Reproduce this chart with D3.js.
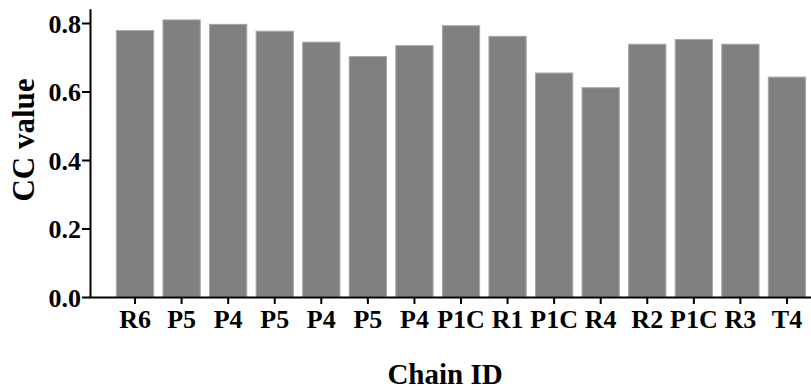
<!DOCTYPE html>
<html>
<head>
<meta charset="utf-8">
<script src="https://cdn.jsdelivr.net/npm/d3@7"></script>
<style>
  body { margin: 0; background: #fff; }
</style>
</head>
<body>
<svg width="811" height="390"></svg>
<script>
(function () {
  'use strict';

  // chain labels (repeat, so index is used as the key)
  const chains = ["R6", "P5", "P4", "P5", "P4", "P5", "P4", "P1C", "R1", "P1C", "R4", "R2", "P1C", "R3", "T4"];
  const ccValues = [0.778, 0.809, 0.796, 0.776, 0.744, 0.702, 0.734, 0.792, 0.761, 0.654, 0.611, 0.738, 0.752, 0.738, 0.642];
  const yTicks = [0.0, 0.2, 0.4, 0.6, 0.8];

  const serif = '"Liberation Serif", "Times New Roman", serif';
  const svg = d3.select("svg");

  const x = d3.scaleBand()
    .domain(d3.range(chains.length))
    .range([90.8, 831.2])
    .paddingInner(0.2)
    .paddingOuter(0.55);

  const y = d3.scaleLinear().domain([0, 0.84]).range([297, 9.3]);

  // bars
  svg.append("g").selectAll("rect")
    .data(ccValues)
    .enter().append("rect")
      .attr("x", (d, i) => x(i))
      .attr("y", d => y(d))
      .attr("width", x.bandwidth())
      .attr("height", d => y(0) - y(d))
      .style("fill", "#808080")
      .style("stroke", "#a6a6a6")
      .style("stroke-width", 1);

  // y axis
  const yAxis = svg.append("g")
    .attr("transform", "translate(90,0)")
    .call(d3.axisLeft(y).tickValues(yTicks).tickFormat(d3.format(".1f")).tickSize(8).tickPadding(1).tickSizeOuter(0));
  yAxis.select(".domain").attr("d", "M0.5," + y.range()[1] + "V" + (y(0) + 0.5));

  // x axis
  const xAxis = svg.append("g")
    .attr("transform", "translate(0,297)")
    .call(d3.axisBottom(x).tickFormat(i => chains[i]).tickSize(7).tickPadding(6).tickSizeOuter(0));
  xAxis.select(".domain").attr("d", "M89,0.5H811");

  [xAxis, yAxis].forEach(ax => {
    ax.attr("font-family", null).attr("font-size", null);
    ax.selectAll("path, line").attr("stroke", "#000").attr("stroke-width", 2);
    ax.selectAll("text")
      .style("font-family", serif)
      .style("font-weight", "bold")
      .style("font-size", "26px")
      .attr("fill", "#000");
  });
  yAxis.selectAll("text").attr("dy", "0.35em");
  xAxis.selectAll("text").attr("dy", "0.71em");

  // axis titles
  svg.append("text")
    .attr("x", 445).attr("y", 384)
    .attr("text-anchor", "middle")
    .style("font-family", serif)
    .style("font-weight", "bold")
    .style("font-size", "29px")
    .text("Chain ID");

  svg.append("text")
    .attr("transform", "translate(34,140) rotate(-90)")
    .attr("text-anchor", "middle")
    .style("font-family", serif)
    .style("font-weight", "bold")
    .style("font-size", "31px")
    .text("CC value");
}());
</script>
</body>
</html>
